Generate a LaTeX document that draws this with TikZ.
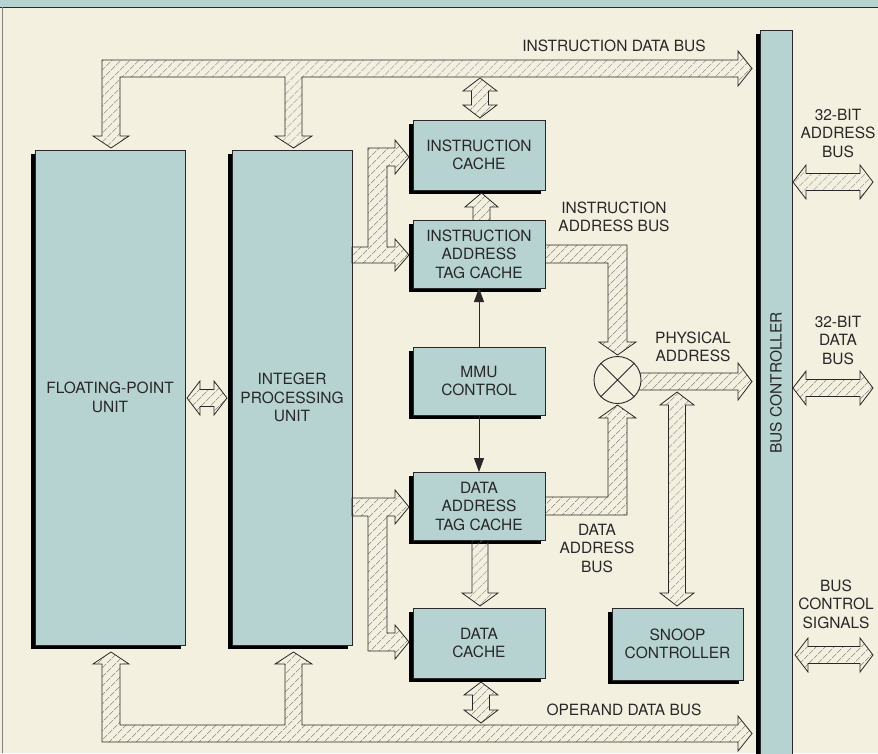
\documentclass[tikz,border=0pt]{standalone}
\usepackage{fontspec}
\setmainfont{TeX Gyre Heros}
\usetikzlibrary{patterns.meta,arrows.meta}

\definecolor{paper}{RGB}{244,240,224}
\definecolor{boxblue}{RGB}{182,210,209}
\definecolor{inkline}{RGB}{40,40,40}
\definecolor{hatchgray}{RGB}{110,110,105}

\tikzset{
    unitbox/.style={draw=inkline, line width=0.9pt, fill=boxblue, inner sep=0pt, outer sep=0pt,
        align=center, text=inkline, font=\fontsize{15.5}{18.5}\selectfont,
        preaction={fill=black, transform canvas={xshift=-4pt, yshift=-4pt}}},
    bus/.style={draw=inkline, line width=0.8pt, line join=miter,
        pattern={Lines[angle=45,distance=6.5pt,line width=0.6pt]}, pattern color=hatchgray},
    buslabel/.style={align=center, text=inkline, font=\fontsize{15.5}{18.5}\selectfont, inner sep=0pt},
    ctrlarrow/.style={draw=inkline, line width=1pt, -{Triangle[length=14pt,width=10pt]}}
}

% 竖直双向总线箭头: x, 上端, 下端
\newcommand{\vbidir}[3]{%
    \draw[bus] (#1,#2) -- ({#1+17},{#2+13}) -- ({#1+8.5},{#2+13}) -- ({#1+8.5},{#3-13})
        -- ({#1+17},{#3-13}) -- (#1,#3) -- ({#1-17},{#3-13}) -- ({#1-8.5},{#3-13})
        -- ({#1-8.5},{#2+13}) -- ({#1-17},{#2+13}) -- cycle;}
% 水平双向总线箭头: y, 左端, 右端
\newcommand{\hbidir}[3]{%
    \draw[bus] (#2,#1) -- ({#2+13},{#1-17}) -- ({#2+13},{#1-8.5}) -- ({#3-13},{#1-8.5})
        -- ({#3-13},{#1-17}) -- (#3,#1) -- ({#3-13},{#1+17}) -- ({#3-13},{#1+8.5})
        -- ({#2+13},{#1+8.5}) -- ({#2+13},{#1+17}) -- cycle;}

\begin{document}
\begin{tikzpicture}[x=1pt, y=-1pt]
    % 背景与边框
    \useasboundingbox (0,0) rectangle (878,753);
    \clip (0,0) rectangle (878,753);
    \fill[paper] (0,0) rectangle (878,753);
    \fill[boxblue] (0,0) rectangle (878,7);
    \draw[inkline, line width=1pt] (0,7) -- (878,7);
    \draw[gray, line width=0.8pt] (2.5,7) -- (2.5,753);

    % 各功能单元
    \node[unitbox, minimum width=150, minimum height=495] (fpu) at (110,397.5) {FLOATING-POINT\\UNIT};
    \node[unitbox, minimum width=120, minimum height=495] (ipu) at (292,397.5) {INTEGER\\PROCESSING\\UNIT};
    \node[unitbox, minimum width=132, minimum height=70] (icache) at (479,155) {INSTRUCTION\\CACHE};
    \node[unitbox, minimum width=132, minimum height=68] (itag) at (479,254) {INSTRUCTION\\ADDRESS\\TAG CACHE};
    \node[unitbox, minimum width=132, minimum height=68] (mmu) at (479,381) {MMU\\CONTROL};
    \node[unitbox, minimum width=132, minimum height=68] (dtag) at (479,506) {DATA\\ADDRESS\\TAG CACHE};
    \node[unitbox, minimum width=132, minimum height=70] (dcache) at (479,643) {DATA\\CACHE};
    \node[unitbox, minimum width=131, minimum height=72] (snoop) at (677.5,644) {SNOOP\\CONTROLLER};
    \node[unitbox, minimum width=32, minimum height=730] (busc) at (776,395) {};
    \node[buslabel, rotate=90] (busclabel) at (776,383) {BUS CONTROLLER};

    % 指令数据总线与操作数数据总线
    \draw[bus] (102,60) -- (738,60) -- (738,51) -- (752,68.5) -- (738,86) -- (738,77)
        -- (302,77) -- (302,136) -- (312,136) -- (293.5,148) -- (275,136) -- (285,136)
        -- (285,77) -- (120,77) -- (120,136) -- (129,136) -- (111,148) -- (93,136) -- (102,136) -- cycle;
    \draw[bus] (102,742) -- (738,742) -- (738,751) -- (752,733.5) -- (738,716) -- (738,725)
        -- (302,725) -- (302,664) -- (312,664) -- (293.5,652) -- (275,664) -- (285,664)
        -- (285,725) -- (120,725) -- (120,664) -- (129,664) -- (111,652) -- (93,664) -- (102,664) -- cycle;

    % 整数单元到各缓存
    \draw[bus] (352,247) -- (368,247) -- (368,148) -- (395,148) -- (395,140) -- (409,157) -- (395,174)
        -- (395,166) -- (387,166) -- (387,247) -- (395,247) -- (395,239) -- (409,255) -- (395,271)
        -- (395,263) -- (352,263) -- cycle;
    \draw[bus] (352,498) -- (395,498) -- (395,490) -- (409,507) -- (395,524) -- (395,516)
        -- (387,516) -- (387,633) -- (395,633) -- (395,625) -- (409,642) -- (395,659)
        -- (395,651) -- (368,651) -- (368,516) -- (352,516) -- cycle;

    % 标签缓存到缓存
    \draw[bus] (473,220) -- (473,207) -- (465,207) -- (481.5,193) -- (498,207) -- (490,207) -- (490,220);
    \draw[bus] (472,540) -- (472,593) -- (462,593) -- (480,606) -- (498,593) -- (488,593) -- (488,540);

    % 地址总线与物理地址
    \draw[bus] (545,245) -- (627,245) -- (627,342) -- (636,342) -- (617.5,355) -- (599,342)
        -- (608,342) -- (608,263) -- (545,263);
    \draw[bus] (545,515) -- (627,515) -- (627,418) -- (636,418) -- (617.5,405) -- (599,418)
        -- (608,418) -- (608,497) -- (545,497);
    \draw[bus] (636,373) -- (738,373) -- (738,363) -- (752,381.5) -- (738,400) -- (738,390) -- (636,390);
    \node[draw=inkline, line width=0.9pt, fill=paper, circle, minimum size=47, inner sep=0pt] (mult) at (617.5,380) {};
    \draw[inkline, line width=0.9pt] (mult.north west) -- (mult.south east) (mult.north east) -- (mult.south west);

    % 双向箭头
    \vbidir{480}{78}{118}
    \vbidir{481}{682}{723}
    \vbidir{677}{392}{606}
    \hbidir{398}{187}{227}
    \hbidir{182}{793}{873}
    \hbidir{388}{793}{873}
    \hbidir{655}{795}{873}

    % MMU 控制线
    \draw[ctrlarrow] (mmu.north) -- (itag.south);
    \draw[ctrlarrow] (mmu.south) -- (dtag.north);

    % 总线标注
    \node[buslabel] (idblabel) at (614,46) {INSTRUCTION DATA BUS};
    \node[buslabel] (iablabel) at (614,217) {INSTRUCTION\\ADDRESS BUS};
    \node[buslabel] (pablabel) at (693,347) {PHYSICAL\\ADDRESS};
    \node[buslabel] (dablabel) at (597,548) {DATA\\ADDRESS\\BUS};
    \node[buslabel] (odblabel) at (624,710) {OPERAND DATA BUS};
    \node[buslabel] (abuslabel) at (838,133) {32-BIT\\ADDRESS\\BUS};
    \node[buslabel] (dbuslabel) at (838,340) {32-BIT\\DATA\\BUS};
    \node[buslabel] (ctrllabel) at (836,604) {BUS\\CONTROL\\SIGNALS};
\end{tikzpicture}
\end{document}
